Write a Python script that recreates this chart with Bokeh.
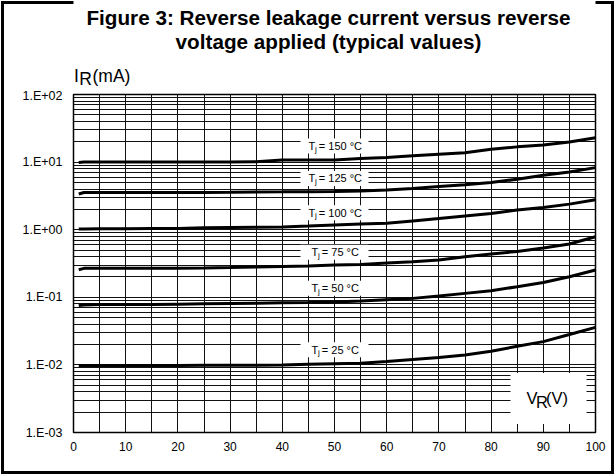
from bokeh.plotting import figure
from bokeh.layouts import column
from bokeh.models import FixedTicker, CustomJSTickFormatter, Label, ColumnDataSource, Range1d
from bokeh.core.properties import value
from bokeh.embed import file_html
from bokeh.resources import INLINE

# ---- data ----
voltage = [1, 2, 5, 10, 15, 20, 25, 30, 35, 40, 45, 50, 55, 60, 65, 70, 75, 80, 85, 90, 95, 100]
i_150 = [9.85, 10.0, 10.0, 10.0, 10.0, 10.0, 10.0, 10.05, 10.1, 10.7, 10.7, 10.7, 11.3, 11.65, 12.4, 13.1, 13.8, 15.5, 16.8, 17.9, 19.9, 23.0]
i_125 = [3.37, 3.55, 3.55, 3.55, 3.55, 3.55, 3.56, 3.57, 3.62, 3.63, 3.65, 3.66, 3.75, 3.88, 4.06, 4.35, 4.61, 4.98, 5.59, 6.41, 7.16, 8.29]
i_100 = [1.02, 1.02, 1.03, 1.03, 1.04, 1.04, 1.07, 1.08, 1.09, 1.10, 1.13, 1.17, 1.21, 1.25, 1.35, 1.46, 1.59, 1.73, 1.95, 2.13, 2.39, 2.77]
i_75 = [0.256, 0.268, 0.27, 0.27, 0.27, 0.27, 0.272, 0.275, 0.28, 0.285, 0.29, 0.30, 0.306, 0.321, 0.336, 0.356, 0.398, 0.437, 0.477, 0.535, 0.613, 0.785]
i_50 = [0.0755, 0.077, 0.078, 0.078, 0.078, 0.079, 0.080, 0.081, 0.082, 0.083, 0.084, 0.0853, 0.0881, 0.0923, 0.0964, 0.1045, 0.1143, 0.125, 0.1435, 0.166, 0.201, 0.253]
i_25 = [0.0098, 0.0098, 0.0098, 0.0098, 0.0098, 0.0098, 0.0099, 0.0099, 0.0099, 0.0100, 0.0102, 0.0104, 0.01056, 0.0112, 0.01198, 0.01283, 0.01406, 0.0159, 0.01884, 0.0221, 0.0281, 0.0359]

temps = [150, 125, 100, 75, 50, 25]
label_i = [17.3, 5.74, 1.78, 0.464, 0.136, 0.0168]
label_v = 50

x_ticks = [0, 10, 20, 30, 40, 50, 60, 70, 80, 90, 100]
x_grid = list(range(0, 101, 5))
y_ticks = [1e-3, 1e-2, 1e-1, 1e0, 1e1, 1e2]
y_labels = ["1.E-03", "1.E-02", "1.E-01", "1.E+00", "1.E+01", "1.E+02"]

title_lines = ["Figure 3: Reverse leakage current versus reverse", "voltage applied (typical values)"]

FONT = "Liberation Sans"
W, H, HEAD = 615, 475, 88
FL, FR = 73, 595   # frame left / right in page pixels

# ---- header (title + y-axis name); data units = page pixels, y downward ----
hf = figure(width=W, height=HEAD, x_range=Range1d(FL, FR), y_range=Range1d(HEAD, 0),
            output_backend="svg", toolbar_location=None,
            min_border_left=FL, min_border_right=W - FR, min_border_top=0, min_border_bottom=0,
            x_axis_location=None, y_axis_location=None)
hf.grid.visible = False
hf.outline_line_color = None
hf.background_fill_color = "white"
hf.border_fill_color = None

hf.text(x=[328, 328], y=[16.5, 41], text=title_lines, text_align="center",
        text_baseline="middle", text_font=value(FONT), text_font_style="bold",
        text_font_size="20.7px", text_color="black")
hf.text(x=[73.6], y=[75.9], text=["I"], text_font=value(FONT), text_font_size="17.5px",
        text_baseline="middle")
hf.text(x=[78.8], y=[HEAD], text=["R"], text_font=value(FONT), text_font_size="17.5px",
        text_baseline="bottom")
hf.text(x=[92], y=[75.9], text=["(mA)"], text_font=value(FONT), text_font_size="17.5px",
        text_baseline="middle")

# ---- main chart ----
p = figure(width=W, height=H - HEAD, x_range=(0, 100), y_range=(1e-3, 1e2),
           y_axis_type="log", output_backend="svg", toolbar_location=None,
           min_border_left=FL, min_border_right=W - FR, min_border_top=94 - HEAD, min_border_bottom=43)
p.outline_line_color = "black"
p.outline_line_width = 1.5
p.background_fill_color = "white"
p.border_fill_color = None

p.xaxis.ticker = FixedTicker(ticks=x_ticks)
p.xgrid.ticker = FixedTicker(ticks=x_grid)
p.xgrid.grid_line_color = "#111111"
p.xgrid.grid_line_width = 1

minor = [m * d for d in y_ticks[:-1] for m in range(2, 10)]
yt = FixedTicker(ticks=y_ticks, minor_ticks=minor)
p.yaxis.ticker = yt
p.ygrid.ticker = yt
p.ygrid.grid_line_color = "#111111"
p.ygrid.minor_grid_line_color = "#111111"
p.yaxis.formatter = CustomJSTickFormatter(args=dict(vals=y_ticks, labels=y_labels), code="""
let best = 0, bd = 1e9;
for (let i = 0; i < vals.length; i++) {
  const d = Math.abs(Math.log10(tick) - Math.log10(vals[i]));
  if (d < bd) { bd = d; best = i; }
}
return labels[best];
""")

for ax in (p.xaxis, p.yaxis):
    ax.axis_line_color = None
    ax.major_tick_out = 0
    ax.major_tick_in = 0
    ax.minor_tick_out = 0
    ax.minor_tick_in = 0
    ax.major_label_text_font = FONT
    ax.major_label_text_font_size = "12px"
    ax.major_label_text_color = "black"
p.yaxis.major_label_text_font_size = "12.5px"
p.xaxis.major_label_standoff = 9
p.yaxis.major_label_standoff = 11

offs = [-26 if t >= 100 else -23 for t in temps]
src = ColumnDataSource(dict(
    x=[label_v] * len(temps), y=label_i,
    t=["T"] * len(temps), j=["j"] * len(temps),
    rest=[f"= {t} °C" for t in temps],
    o_t=offs, o_j=[o + 6.5 for o in offs], o_r=[o + 10.3 for o in offs],
))
p.rect("x", "y", width=68, height=15, width_units="screen", height_units="screen",
       fill_color="white", line_color=None, source=src)

p.rect(x=[91.0], y=[0.00318], width=76, height=51, width_units="screen", height_units="screen",
       fill_color="white", line_color=None)

for series in (i_150, i_125, i_100, i_75, i_50, i_25):
    p.line(voltage, series, line_width=3, color="black")

p.text("x", "y", text="t", x_offset="o_t", text_align="left", text_baseline="middle",
       text_font=value(FONT), text_font_size="11px", source=src)
p.text("x", "y", text="j", x_offset="o_j", y_offset=3, text_align="left", text_baseline="middle",
       text_font=value(FONT), text_font_size="8px", source=src)
p.text("x", "y", text="rest", x_offset="o_r", text_align="left", text_baseline="middle",
       text_font=value(FONT), text_font_size="11px", source=src)

def lab(x, y, text, size):
    p.add_layout(Label(x=x, y=y, x_units="screen", y_units="screen", text=text,
                       text_font=FONT, text_font_size=size, text_align="left",
                       text_baseline="middle", text_color="black"))

lab(453, 34.2, "V", "16.5px")
lab(462.5, 30.3, "R", "16.5px")
lab(472.5, 34.2, "(V)", "16.5px")

layout = column(hf, p, spacing=0)
layout.styles = {"outline": "3px solid black", "outline-offset": "-4px", "background": "white"}

open("out.html", "w").write(file_html(layout, INLINE))
